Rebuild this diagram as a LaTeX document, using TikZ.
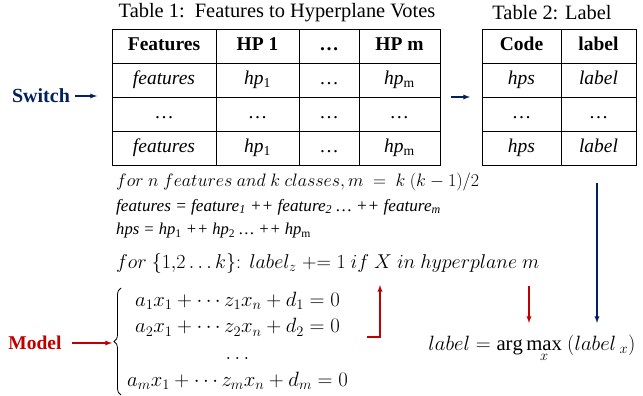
\RequirePackage{fix-cm}
\documentclass[tikz,border=0pt]{standalone}
\usepackage{fontspec}
\setmainfont{Liberation Serif}[ItalicFont={Liberation Serif Italic},BoldFont={Liberation Serif Bold},BoldItalicFont={Liberation Serif Bold Italic}]
\usetikzlibrary{matrix,positioning,decorations.pathreplacing}
\definecolor{swblue}{RGB}{0,32,96}
\definecolor{mdred}{RGB}{192,0,0}
\tikzset{
  cell/.style={draw,line width=0.9pt,minimum height=34pt,inner sep=0pt,anchor=center,
    text height=13pt,text depth=4pt,font=\fontsize{19.5}{22}\selectfont},
  flow/.style={-latex,line width=1.3pt},
  caption/.style={font=\fontsize{20.4}{22}\selectfont},
}
\begin{document}
\begin{tikzpicture}[x=1pt,y=-1pt]
  \useasboundingbox (0,0) rectangle (643,396);
  % table 1
  \matrix (votes) at (276,97) [matrix of nodes, nodes={cell},
    column sep=-0.9pt, row sep=-0.9pt,
    column 1/.style={nodes={minimum width=104pt}},
    column 2/.style={nodes={minimum width=83pt}},
    column 3/.style={nodes={minimum width=60pt}},
    column 4/.style={nodes={minimum width=81pt}}]
  {
    \textbf{Features} & \textbf{HP 1} & \textbf{\ldots} & \textbf{HP m}\\
    \textit{features} & \textit{hp}\textsubscript{1} & \ldots & \textit{hp}\textsubscript{m}\\
    \ldots & \ldots & \ldots & \ldots\\
    \textit{features} & \textit{hp}\textsubscript{1} & \ldots & \textit{hp}\textsubscript{m}\\
  };
  % table 2
  \matrix (labels) at (559,97) [matrix of nodes, nodes={cell},
    column sep=-0.9pt, row sep=-0.9pt,
    column 1/.style={nodes={minimum width=79pt}},
    column 2/.style={nodes={minimum width=75pt}}]
  {
    \textbf{Code} & \textbf{label}\\
    \textit{hps} & \textit{label}\\
    \ldots & \ldots\\
    \textit{hps} & \textit{label}\\
  };
  \node[caption] (capA) at (277,13) {Table 1:\ \ Features to Hyperplane Votes};
  \node[caption] (capB) at (552,13) {Table 2: Label};
  \node[swblue,font=\fontsize{20}{22}\selectfont\bfseries] (switch) at (41,96) {Switch};
  \draw[flow,swblue,shorten <=2pt,shorten >=11pt] (switch) -- (switch -| votes.west);
  \draw[flow,swblue,shorten <=7pt,shorten >=8pt] (votes.east |- 0,97) -- (labels.west |- 0,97);
  % formulas
  \node[anchor=west,inner sep=0pt,font=\fontsize{18}{20}\selectfont] (rule) at (116,182)
    {$for\ n\ features\ and\ k\ classes, m\ =\ k\ (k-1)/2$};
  \node[anchor=west,inner sep=0pt,font=\fontsize{17.2}{19}\selectfont\itshape] (feat) at (116,207)
    {features = feature\textsubscript{1} ++ feature\textsubscript{2} \ldots{} ++ feature\textsubscript{m}};
  \node[anchor=west,inner sep=0pt,font=\fontsize{16.6}{19}\selectfont\itshape] (hps) at (116,231)
    {hps = hp\textsubscript{\upshape 1} ++ hp\textsubscript{\upshape 2} \ldots{} ++ hp\textsubscript{\upshape m}};
  \node[anchor=west,inner sep=0pt,font=\fontsize{20}{24}\selectfont] (vote) at (116,263)
    {$for\ \{1{,}2\ldots k\}\colon\ label_z \mathrel{+}= 1\ if\ X\ in\ hyperplane\ m$};
  \node[anchor=west,inner sep=0pt,font=\fontsize{20.7}{24}\selectfont] (planes) at (122,341)
    {$\def\arraystretch{1.12}\begin{array}{c}
      a_1x_1+\cdots z_1x_n+d_1=0\\
      a_2x_1+\cdots z_2x_n+d_2=0\\
      \ldots\\
      a_mx_1+\cdots z_mx_n+d_m=0
    \end{array}$};
  \draw[decorate,decoration={brace,amplitude=7pt},line width=0.8pt] (121,395) -- (121,288);
  \node[mdred,font=\fontsize{19.5}{22}\selectfont\bfseries] (model) at (35,343) {Model};
  \draw[flow,mdred,shorten <=7pt,shorten >=10pt] (model) -- (model -| planes.west);
  \node[font=\fontsize{20.7}{24}\selectfont] (argmax) at (532,348)
    {$label=\displaystyle\arg\max_{\lower4pt\hbox{$\scriptstyle x$}}\ (label\,_x)$};
  % connectors
  \coordinate (up0) at (367,337);
  \coordinate (up1) at (380,285);
  \draw[flow,mdred] (up0) -| (up1);
  \coordinate (dn0) at (529,323);
  \draw[flow,mdred,shorten <=13pt] (vote.south -| dn0) -- (dn0);
  \coordinate (dn1) at (597,323);
  \draw[flow,swblue,shorten <=14pt] (labels.south -| dn1) -- (dn1);
\end{tikzpicture}
\end{document}
